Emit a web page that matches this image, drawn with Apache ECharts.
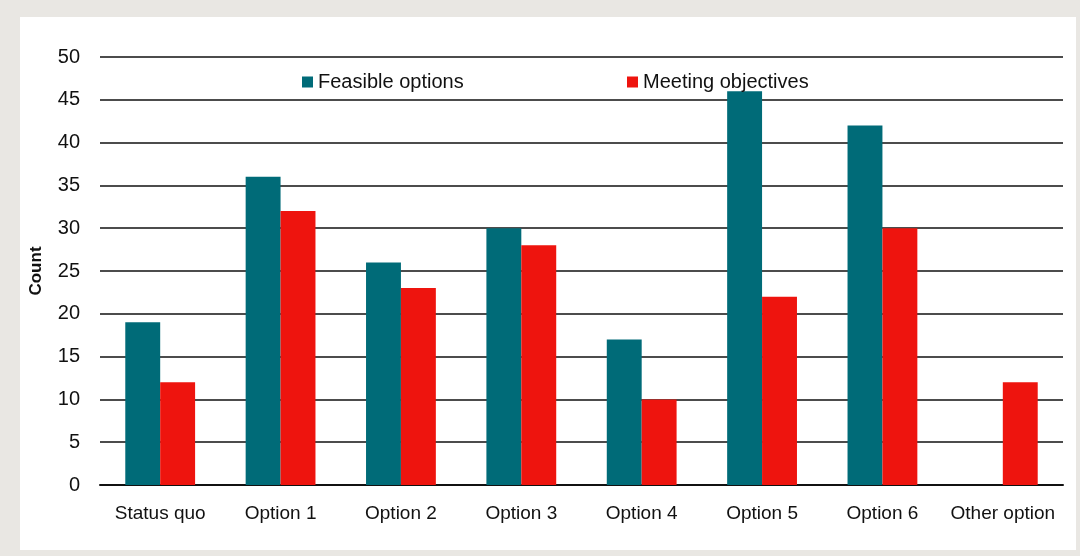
<!DOCTYPE html>
<html><head><meta charset="utf-8">
<script src="https://cdn.jsdelivr.net/npm/echarts@6/dist/echarts.min.js"></script>
<style>
html,body{margin:0;padding:0;background:#e9e7e3;}
#frame{position:absolute;left:20px;top:17px;width:1056px;height:533px;background:#fff;}
#c{position:absolute;left:0;top:0;width:1080px;height:556px;}
</style></head>
<body>
<div id="frame"></div>
<div id="c"></div>
<script>
const categories = ['Status quo','Option 1','Option 2','Option 3','Option 4','Option 5','Option 6','Other option'];
const feasible = [19, 36, 26, 30, 17, 46, 42, 0];
const meeting = [12, 32, 23, 28, 10, 22, 30, 12];
const yTicks = [0, 5, 10, 15, 20, 25, 30, 35, 40, 45, 50];

const chart = echarts.init(document.getElementById('c'), null, {renderer:'canvas'});
const font = 'Liberation Sans, Arial, sans-serif';
const legendText = {fontFamily:font, fontSize:20, color:'#111'};
chart.setOption({
  animation:false,
  backgroundColor:'transparent',
  grid:{left:100, right:17, top:57, bottom:71, containLabel:false},
  legend:[
    {left:297, top:67, itemWidth:11, itemHeight:11, icon:'rect', textStyle:legendText, data:['Feasible options']},
    {left:622, top:67, itemWidth:11, itemHeight:11, icon:'rect', textStyle:legendText, data:['Meeting objectives']}
  ],
  xAxis:{
    type:'category', data:categories,
    axisLine:{lineStyle:{color:'#111', width:2}},
    axisTick:{show:false},
    axisLabel:{fontFamily:font, fontSize:19, color:'#111', margin:19, interval:0}
  },
  yAxis:{
    type:'value', min:yTicks[0], max:yTicks[yTicks.length-1], interval:5,
    name:'Count', nameLocation:'middle', nameGap:55, nameRotate:90,
    nameTextStyle:{fontFamily:font, fontSize:17, fontWeight:'bold', color:'#111'},
    axisLine:{show:false}, axisTick:{show:false},
    axisLabel:{fontFamily:font, fontSize:20, color:'#111', margin:20},
    splitLine:{lineStyle:{color:'#111', width:1.5}}
  },
  series:[
    {name:'Feasible options', type:'bar', data:feasible, barGap:'0%', barCategoryGap:'42%',
     itemStyle:{color:'#006b78'}},
    {name:'Meeting objectives', type:'bar', data:meeting,
     itemStyle:{color:'#ee140e'}}
  ]
});
</script>
</body></html>
